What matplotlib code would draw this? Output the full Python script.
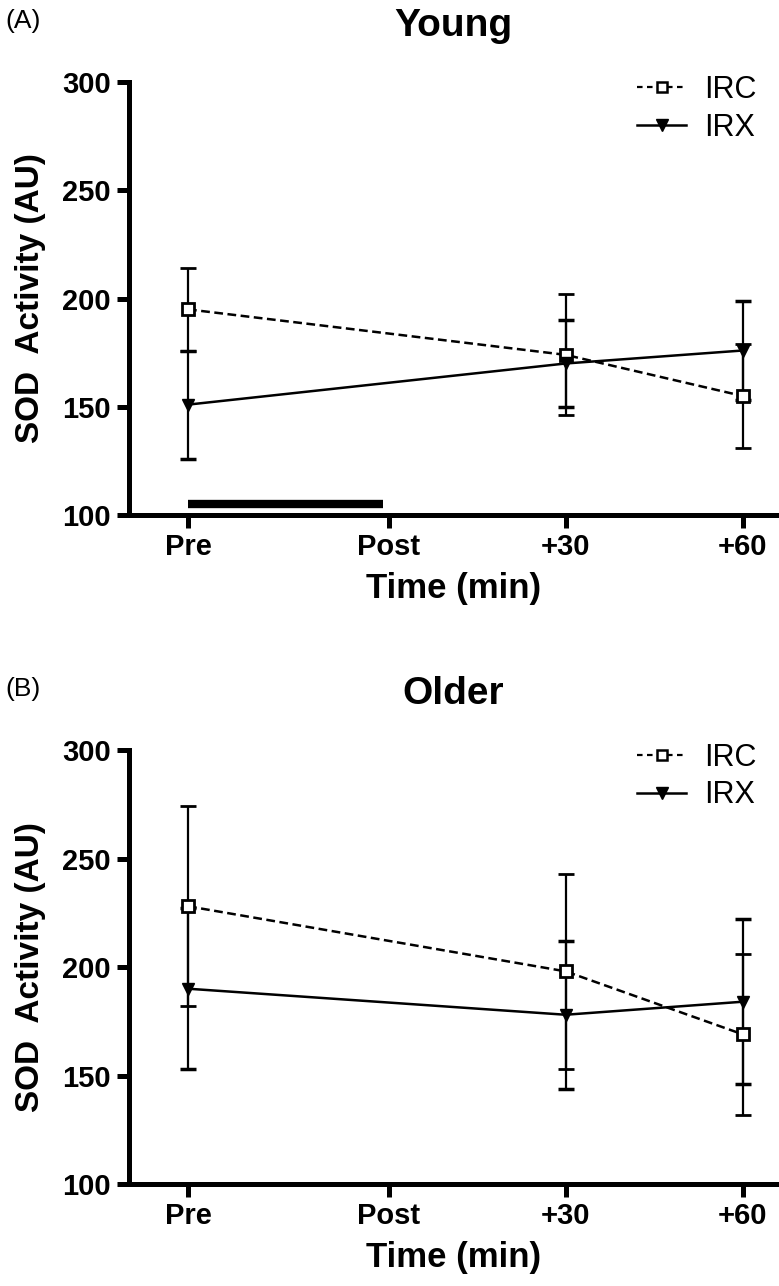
import matplotlib
matplotlib.use('Agg')
import matplotlib.pyplot as plt
from matplotlib.lines import Line2D

plt.rcParams['font.family'] = ['Liberation Sans', 'DejaVu Sans']

# time points (minutes relative to end of exercise) and their labels
times = [-34, 0, 30, 60]
tick_labels = ['Pre', 'Post', '+30', '+60']
# no Post sample was taken, only Pre / +30 / +60
t_meas = [-34, 30, 60]

young_irc = [195, 174, 155]
young_irc_err = [19, 28, 24]
young_irx = [151, 170, 176]
young_irx_err = [25, 20, 23]

older_irc = [228, 198, 169]
older_irc_err = [46, 45, 37]
older_irx = [190, 178, 184]
older_irx_err = [37, 34, 38]

# exercise bout, drawn only in the top panel
bout = [-34, -1]
bout_level = 105

fig = plt.figure(figsize=(7.79, 12.86), dpi=100)
ax1 = fig.add_axes([0.1656, 0.5995, 0.8331, 0.3367])
ax2 = fig.add_axes([0.1656, 0.0793, 0.8331, 0.3375])

irc_dash = (0, (3.5, 1.8))

def panel(ax, irc, irc_err, irx, irx_err, title, tag):
    ax.errorbar(t_meas, irc, yerr=irc_err, color='black', lw=1.8, ls=irc_dash,
                marker='s', ms=9, mfc='white', mec='black', mew=2,
                elinewidth=1.6, capsize=6, capthick=2.5, zorder=3)
    ax.errorbar(t_meas, irx, yerr=irx_err, color='black', lw=1.8, ls='-',
                marker='v', ms=9, mfc='black', mec='black',
                elinewidth=1.6, capsize=6, capthick=2.5, zorder=3)
    ax.set_xlim(-44, 66)
    ax.set_ylim(100, 300)
    ax.set_yticks([100, 150, 200, 250, 300])
    ax.set_xticks(times)
    ax.set_xticklabels(tick_labels, fontweight='bold')
    for lab in ax.get_yticklabels():
        lab.set_fontweight('bold')
    ax.tick_params(labelsize=21, width=3.6, length=9, direction='out', pad=4)
    for s in ['top', 'right']:
        ax.spines[s].set_visible(False)
    for s in ['left', 'bottom']:
        ax.spines[s].set_linewidth(3.6)
    ax.set_xlabel('Time (min)', fontsize=25, fontweight='bold', labelpad=8)
    ax.set_ylabel('SOD  Activity (AU)', fontsize=24, fontweight='bold', labelpad=12)
    ax.set_title(title, fontsize=28, fontweight='bold', pad=33)
    ax.text(-0.19, 1.14, tag, transform=ax.transAxes, fontsize=19, ha='left', va='center')
    handles = [Line2D([], [], color='black', lw=1.6, ls=(0, (2.5, 2)), marker='s', ms=7,
                      mfc='white', mec='black', mew=1.8),
               Line2D([], [], color='black', lw=1.8, ls='-', marker='v', ms=8,
                      mfc='black', mec='black')]
    ax.legend(handles, ['IRC', 'IRX'], loc='upper right', bbox_to_anchor=(1.01, 1.08),
              frameon=False, fontsize=22, handlelength=1.6, handletextpad=0.6,
              labelspacing=0.25)

panel(ax1, young_irc, young_irc_err, young_irx, young_irx_err, 'Young', '(A)')
panel(ax2, older_irc, older_irc_err, older_irx, older_irx_err, 'Older', '(B)')

ax1.plot(bout, [bout_level, bout_level], color='black', lw=6, solid_capstyle='butt')

fig.savefig('out.png', dpi=100)
